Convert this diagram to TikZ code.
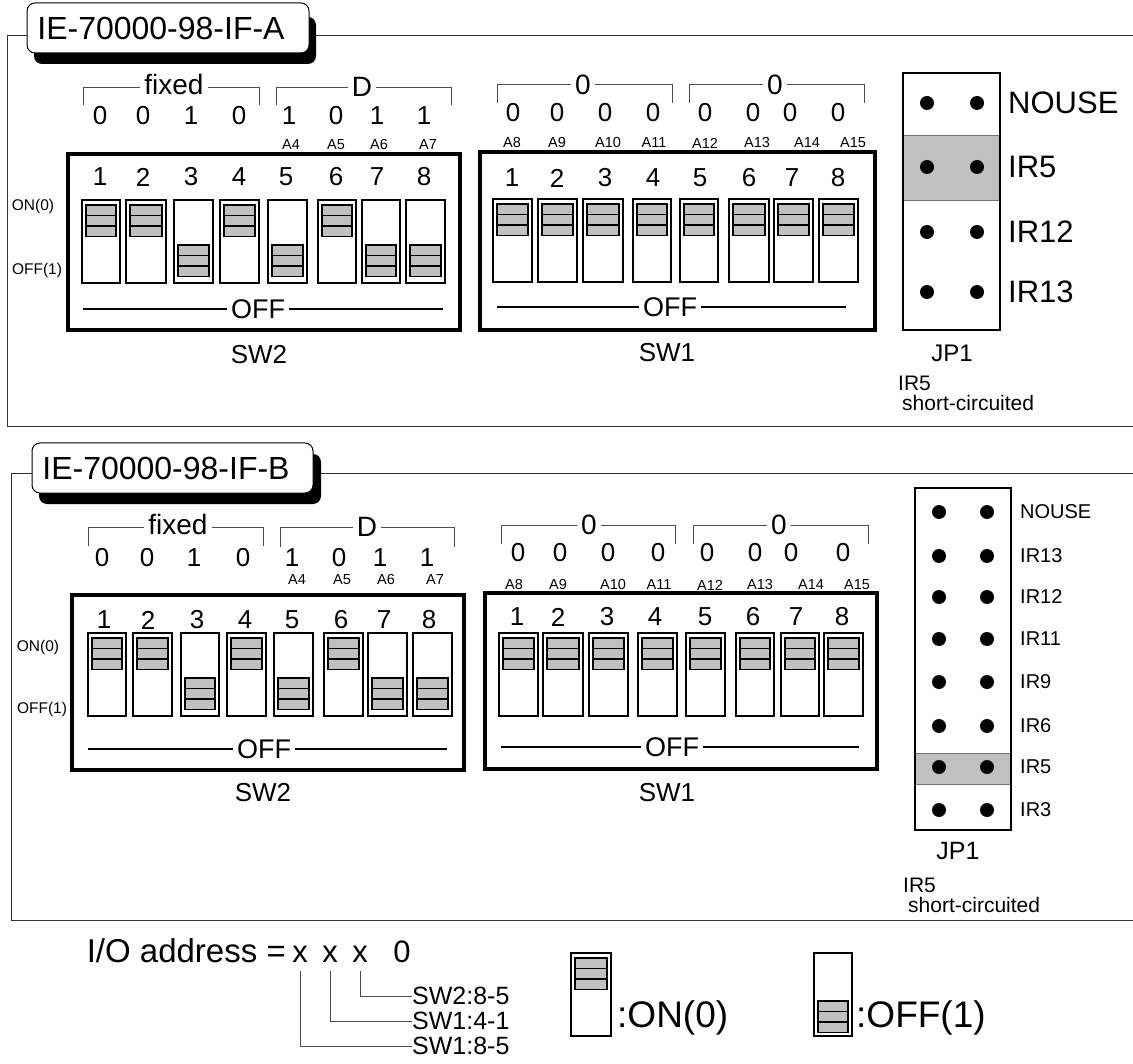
\documentclass[tikz,border=0pt]{standalone}
\usepackage{fontspec}
\setmainfont{Liberation Sans}
\usetikzlibrary{positioning}
\definecolor{knobgray}{RGB}{192,192,192}
\newcommand{\fsz}[1]{\fontsize{#1}{#1}\selectfont}
% one slide switch: left x, right x, top y, knob offset
\newcommand{\dipsw}[4]{%
  \draw [slot] (#1,#3) rectangle (#2,{#3+83});
  \foreach \k in {0,1,2}
    \draw [band] ({#1+4},{#3+#4+10.5*\k}) rectangle ({#2-4},{#3+#4+10.5*\k+10.5});
}

\begin{document}
\begin{tikzpicture}[x=1pt, y=-1pt,
  border/.style={line width=1pt, black!80},
  brk/.style={line width=0.9pt, black!70},
  offln/.style={line width=1.5pt},
  swbox/.style={line width=4pt},
  slot/.style={draw, line width=2pt, fill=white},
  band/.style={draw, line width=1.5pt, fill=knobgray},
  dot/.style={circle, fill, inner sep=0pt, minimum size=14pt},
  boardname/.style={font=\fsz{32}, inner sep=0pt},
  num/.style={font=\fsz{26}, inner sep=0pt},
  grp/.style={font=\fsz{28}, fill=white, inner xsep=4pt, inner ysep=0pt},
  addr/.style={font=\fsz{14.5}, inner sep=0pt},
  side/.style={font=\fsz{15.5}, inner sep=0pt},
  offtxt/.style={font=\fsz{27}, fill=white, inner xsep=4pt, inner ysep=0pt},
  swname/.style={font=\fsz{26}, inner sep=0pt},
  jplbl/.style={anchor=west, inner sep=0pt},
  note/.style={font=\fsz{21}, anchor=west, inner sep=0pt},
  swref/.style={font=\fsz{25}, anchor=west, inner sep=0pt}]
\useasboundingbox (0,0) rectangle (1133,1064);

% ---------- IE-70000-98-IF-A
\draw [border] (1133,36) -- (7,36) -- (7,427) -- (1133,427);
\fill [rounded corners=8pt] (34,17) rectangle (316,64);
\draw [fill=white, line width=1pt, rounded corners=8pt] (27,3) rectangle (309,53);
\node [boardname] (nameA) at (161,28) {IE-70000-98-IF-A};

\draw [brk] (83,105) -- (83,87) -- (259,87) -- (259,105);
\draw [brk] (276,105) -- (276,87) -- (451,87) -- (451,105);
\draw [brk] (497,103) -- (497,84) -- (672,84) -- (672,103);
\draw [brk] (689,103) -- (689,84) -- (864,84) -- (864,103);
\node [grp] (fixA) at (174,84) {fixed};
\node [grp] (dA) at (362,87) {D};
\node [grp] (hiA) at (583,85) {0};
\node [grp] (loA) at (775,85) {0};

\foreach \x/\b [count=\i] in {100/0,143/0,191/1,239/0,289/1,336/0,377/1,424/1}
  \node [num] (bitA2-\i) at (\x,116) {\b};
\foreach \x [count=\i] in {513,557,605,653,705,753,790,838}
  \node [num] (bitA1-\i) at (\x,113) {0};
\foreach \x/\a in {291/4,336/5,379/6,428/7}
  \node [addr] (adrA-\a) at (\x,145) {A\a};
\foreach \x/\a in {512/8,557/9,608/10,654/11,705/12,757/13,807/14,853/15}
  \node [addr] (adrA-\a) at (\x,143) {A\a};

% SW2
\draw [swbox] (68,154) rectangle (460,330);
\foreach \x [count=\i] in {100,143,191,239,286,336,377,424}
  \node [num] (swA2-\i) at (\x,177) {\i};
\foreach \l/\r/\o in {82/120/5,126/166/5,174/213/45,220/259/5,268/307/45,318/356/5,362/400/45,406/445/45}
  {\dipsw{\l}{\r}{200}{\o}}
\draw [offln] (83,309) -- (443,309);
\node [offtxt] (offA2) at (258,309) {OFF};
\node [side] (onA) at (33,206) {ON(0)};
\node [side] (offA) at (37,270) {OFF(1)};
\node [swname] (nA2) at (259,355) {SW2};

% SW1
\draw [swbox] (480,152) rectangle (875,330);
\foreach \x [count=\i] in {512,557,605,653,700,749,792,838}
  \node [num] (swA1-\i) at (\x,178) {\i};
\foreach \l/\r in {493/532,538/577,583/623,633/671,680/718,729/769,774/813,819/858}
  {\dipsw{\l}{\r}{199}{5}}
\draw [offln] (497,307) -- (846,307);
\node [offtxt] (offA1) at (670,307) {OFF};
\node [swname] (nA1) at (667,353) {SW1};

% JP1
\fill [knobgray] (903,136) rectangle (1000,201);
\draw [line width=1pt, black!55] (903,136) -- (1000,136) (903,201) -- (1000,201);
\draw [line width=1.6pt] (903,73) rectangle (1000,330);
\foreach \y/\t [count=\i] in {103/NOUSE,167/IR5,232/IR12,292/IR13} {
  \node [dot] (jaL\i) at (927,\y) {};
  \node [dot] (jaR\i) at (977,\y) {};
  \node [jplbl, font=\fsz{31}] (jaT\i) at (1008,\y) {\t};
}
\node [font=\fsz{24}, inner sep=0pt] (jpA) at (952,353) {JP1};
\node [note] (irA) at (898,383) {IR5};
\node [note] (scA) at (902,403) {short-circuited};

% ---------- IE-70000-98-IF-B
\draw [border] (1133,474) -- (11,474) -- (11,920) -- (1133,920);
\fill [rounded corners=8pt] (39,454) rectangle (321,504);
\draw [fill=white, line width=1pt, rounded corners=8pt] (32,443) rectangle (313,493);
\node [boardname] (nameB) at (166,468) {IE-70000-98-IF-B};

\draw [brk] (88,546) -- (88,527) -- (263,527) -- (263,546);
\draw [brk] (280,547) -- (280,527) -- (454,527) -- (454,547);
\draw [brk] (501,544) -- (501,525) -- (675,525) -- (675,544);
\draw [brk] (693,544) -- (693,525) -- (868,525) -- (868,544);
\node [grp] (fixB) at (178,524.5) {fixed};
\node [grp] (dB) at (367,527) {D};
\node [grp] (hiB) at (589,525) {0};
\node [grp] (loB) at (779,525) {0};

\foreach \x/\b [count=\i] in {102/0,147/0,194/1,243/0,292/1,339/0,380/1,427/1}
  \node [num] (bitB2-\i) at (\x,558) {\b};
\foreach \x [count=\i] in {518,560,608,658,707,755,791,843}
  \node [num] (bitB1-\i) at (\x,553) {0};
\foreach \x/\a in {297/4,342/5,386/6,435/7}
  \node [addr] (adrB-\a) at (\x,580) {A\a};
\foreach \x/\a in {514/8,558/9,613/10,659/11,710/12,760/13,811/14,857/15}
  \node [addr] (adrB-\a) at (\x,585) {A\a};

% SW2
\draw [swbox] (72,595) rectangle (464,770);
\foreach \x [count=\i] in {104,148,197,245,292,341,384,429}
  \node [num] (swB2-\i) at (\x,620) {\i};
\foreach \l/\r/\o in {88/126/5,133/172/5,181/219/45,227/266/5,274/313/45,324/363/5,368/407/45,413/452/45}
  {\dipsw{\l}{\r}{633}{\o}}
\draw [offln] (88,749) -- (447,749);
\node [offtxt] (offB2) at (264,749) {OFF};
\node [side] (onB) at (38,647) {ON(0)};
\node [side] (offB) at (42,709) {OFF(1)};
\node [swname] (nB2) at (263,793) {SW2};

% SW1
\draw [swbox] (485,593) rectangle (877,769);
\foreach \x [count=\i] in {517,558,607,655,705,753,796,842}
  \node [num] (swB1-\i) at (\x,617) {\i};
\foreach \l/\r in {499/538,543/583,589/628,638/677,686/725,736/774,781/819,824/863}
  {\dipsw{\l}{\r}{633}{5}}
\draw [offln] (501,747) -- (859,747);
\node [offtxt] (offB1) at (672,747) {OFF};
\node [swname] (nB1) at (667,793) {SW1};

% JP1
\fill [knobgray] (915,753) rectangle (1011,784);
\draw [line width=1pt, black!55] (915,753) -- (1011,753) (915,784) -- (1011,784);
\draw [line width=1.6pt] (915,488) rectangle (1011,830);
\foreach \y/\t [count=\i] in {512/NOUSE,556/IR13,597/IR12,639/IR11,682/IR9,726/IR6,767/IR5,810/IR3} {
  \node [dot] (jbL\i) at (939,\y) {};
  \node [dot] (jbR\i) at (987,\y) {};
  \node [jplbl, font=\fsz{20}] (jbT\i) at (1020,\y) {\t};
}
\node [font=\fsz{25}, inner sep=0pt] (jpB) at (958,851) {JP1};
\node [note] (irB) at (903,885) {IR5};
\node [note] (scB) at (908,905) {short-circuited};

% ---------- I/O address
\node [font=\fsz{33}, anchor=base east, inner sep=0pt] (io) at (286,962) {I/O address =};
\node [font=\fsz{31}, anchor=base, inner sep=0pt] (x1) at (300,962) {x};
\node [font=\fsz{31}, anchor=base, inner sep=0pt] (x2) at (330,962) {x};
\node [font=\fsz{31}, anchor=base, inner sep=0pt] (x3) at (360,962) {x};
\node [font=\fsz{31}, anchor=base, inner sep=0pt] (x0) at (402,962) {0};
\node [swref] (r3) at (412,996) {SW2:8-5};
\node [swref] (r2) at (412,1021) {SW1:4-1};
\node [swref] (r1) at (412,1046) {SW1:8-5};
\draw [brk] ([yshift=-9pt]x1.south) |- (r1.west);
\draw [brk] ([yshift=-9pt]x2.south) |- (r2.west);
\draw [brk] ([yshift=-9pt]x3.south) |- (r3.west);

% legend
\dipsw{571}{611}{953}{5}
\node [font=\fsz{37}, anchor=west, inner sep=0pt] (lgon) at (617,1018) {:ON(0)};
\dipsw{814}{852}{953}{48}
\node [font=\fsz{37}, anchor=west, inner sep=0pt] (lgoff) at (856,1018) {:OFF(1)};
\end{tikzpicture}
\end{document}
